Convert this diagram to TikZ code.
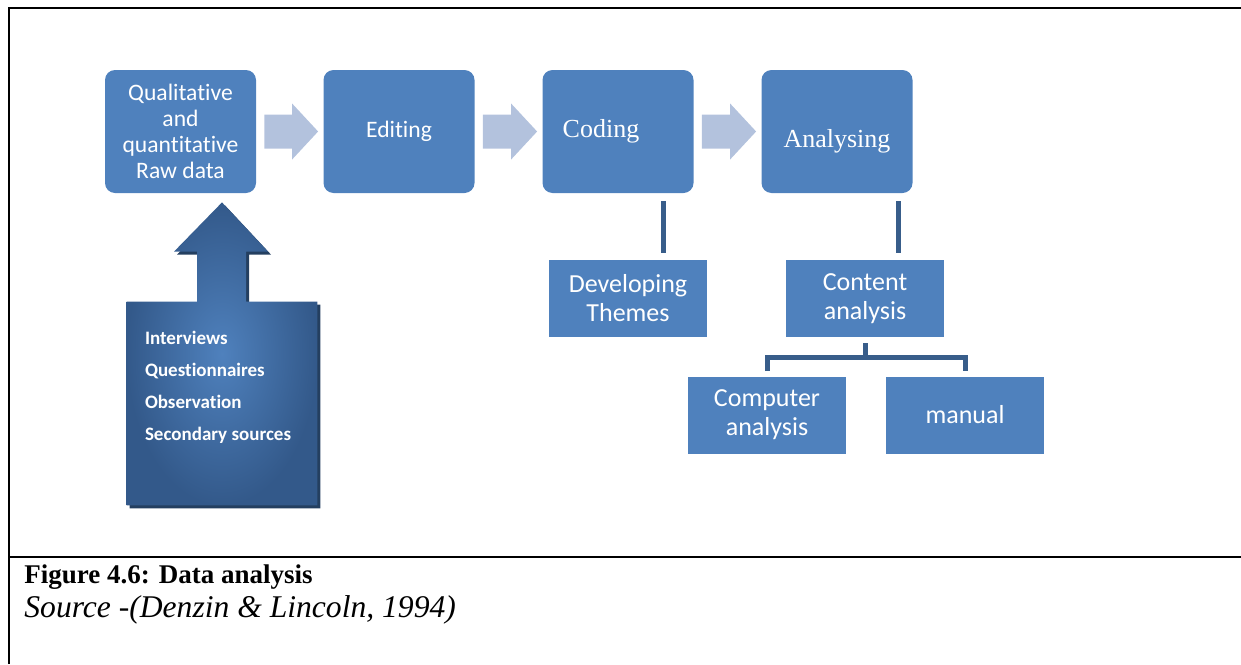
\documentclass[tikz,border=0pt]{standalone}
\usepackage{fontspec}
\setmainfont{Liberation Serif}
\newfontfamily\calibri[Ligatures=NoCommon]{Carlito}
\usetikzlibrary{calc,backgrounds}

\definecolor{boxblue}{HTML}{4F81BD}
\definecolor{linkblue}{HTML}{385D8A}
\definecolor{flowblue}{HTML}{B3C2DD}
\definecolor{deepblue}{HTML}{33598A}
\definecolor{shadowblue}{HTML}{243F60}

\begin{document}
\begin{tikzpicture}[x=0.5pt,y=-0.5pt]
\tikzstyle{stage}=[rectangle,rounded corners=5pt,fill=boxblue,minimum width=75.5pt,minimum height=61.5pt,inner sep=0pt,text=white,align=center,font=\calibri\fontsize{11.8}{12.9}\selectfont]
\tikzstyle{task}=[rectangle,fill=boxblue,minimum width=79pt,minimum height=38.5pt,inner sep=0pt,text=white,align=center,font=\calibri\fontsize{13}{14.5}\selectfont]
\tikzstyle{link}=[linkblue,line width=2.5pt]
\tikzstyle{flow}=[fill=flowblue]
\useasboundingbox (0,0) rectangle (1241,664);
% frame
\draw[line width=1pt] (9,664) -- (9,8) -- (1241,8);
\draw[line width=1pt] (9,557) -- (1241,557);
% main stages
\node[stage] (raw) at (180.5,131.5) {Qualitative\\and\\quantitative\\Raw data};
\node[stage] (edit) at (399,131.5) {Editing};
\node[stage,font=\fontsize{13}{15}\selectfont] (coding) at (618,131.5) {Coding\hspace*{17pt}};
\node[stage,font=\fontsize{13}{15}\selectfont] (analysing) at (837,131.5) {\raisebox{-5pt}[\height][\depth]{Analysing}};
\foreach \a/\b in {raw/edit,edit/coding,coding/analysing}
	\fill[flow] ($(\a.east)+(8,-17)$) -- ($(\b.west)+(-31,-17)$) -- ($(\b.west)+(-31,-28)$) -- ($(\b.west)+(-5,0)$) -- ($(\b.west)+(-31,28)$) -- ($(\b.west)+(-31,17)$) -- ($(\a.east)+(8,17)$) -- cycle;
% sub tasks
\node[task] (themes) at (628,298.5) {Developing\\Themes};
\node[task] (content) at (865,298.5) {Content\\analysis};
\node[task] (computer) at (767,415) {Computer\\analysis};
\node[task] (manual) at (965,415) {manual};
\draw[link] ($(coding.south east)+(-30,8)$) coordinate (c1) -- ($(c1 |- themes.north)+(0,-7)$);
\draw[link] ($(analysing.south east)+(-14,8)$) coordinate (c2) -- ($(c2 |- content.north)+(0,-7)$);
\draw[link] ($(content.south)+(0,6)$) -- ++(0,15);
\draw[link] ($(computer.north)+(0,-5)$) -- ++(0,-14) -| ($(manual.north)+(0,-5)$);
% sources
\node[rectangle,minimum width=95pt,minimum height=101.5pt,inner sep=0pt] (src) at (222,403.5) {};
\node[anchor=north west,align=left,text=white,inner sep=0pt,font=\calibri\bfseries\fontsize{9.5}{16}\selectfont] (srclist) at ($(src.north west)+(18,29)$) {Interviews\\Questionnaires\\Observation\\Secondary sources};
\begin{scope}[on background layer]
\path[preaction={fill=shadowblue,transform canvas={shift={(1.5pt,-1.5pt)}}},shading=radial,inner color=boxblue,outer color=deepblue]
	(src.south west) -- (src.north west) -- ($(src.north)+(-25,0)$) -- ($(src.north)+(-25,-50)$) -- ($(src.north)+(-48,-50)$) -- ($(raw.south -| src.north)+(0,9)$) -- ($(src.north)+(46,-50)$) -- ($(src.north)+(24,-50)$) -- ($(src.north)+(24,0)$) -- (src.north east) -- (src.south east) -- cycle;
\end{scope}
% caption
\node[anchor=base west,inner sep=0pt,font=\bfseries\fontsize{13.5}{16}\selectfont] (fig) at (24,583) {Figure 4.6: Data analysis};
\node[anchor=base west,inner sep=0pt,font=\itshape\fontsize{15.8}{18}\selectfont] (source) at (24,617) {Source -(Denzin \& Lincoln, 1994)};
\end{tikzpicture}
\end{document}
